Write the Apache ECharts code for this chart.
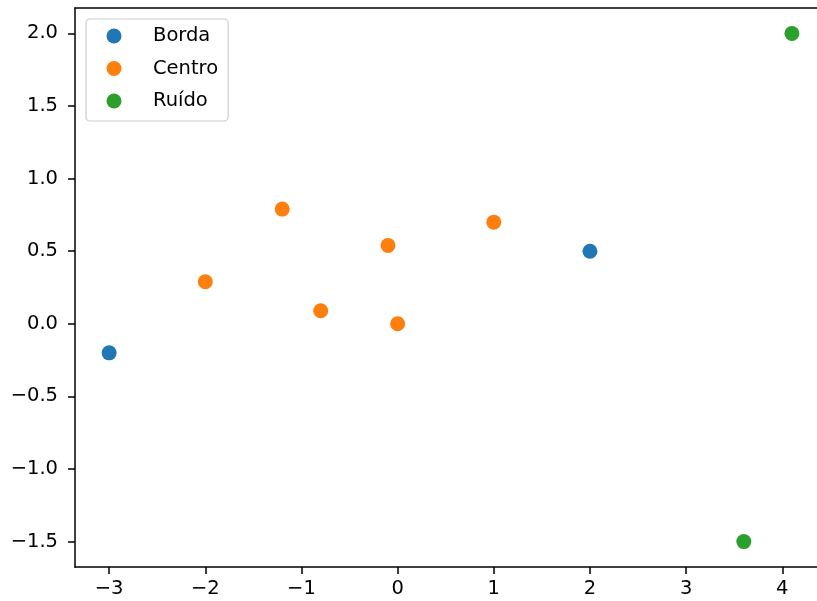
<!DOCTYPE html>
<html>
<head>
<meta charset="utf-8">
<script src="https://cdn.jsdelivr.net/npm/echarts@6/dist/echarts.min.js"></script>
<style>html,body{margin:0;padding:0;background:#fff}#c{width:817px;height:601px}</style>
</head>
<body>
<div id="c"></div>
<script>
const seriesNames = ['Borda', 'Centro', 'Ruído'];
const bordaPoints = [[-3, -0.2], [2, 0.5]];
const centroPoints = [[-2, 0.29], [-1.2, 0.79], [-0.8, 0.09], [-0.1, 0.54], [0, 0], [1, 0.7]];
const ruidoPoints = [[3.6, -1.5], [4.1, 2.0]];
const xTicks = [-3, -2, -1, 0, 1, 2, 3, 4];
const yTicks = [-1.5, -1.0, -0.5, 0.0, 0.5, 1.0, 1.5, 2.0];
const colors = ['#1f77b4', '#ff7f0e', '#2ca02c'];

const fmtMinus = v => String(v).replace('-', '\u2212');
const FONT = 'DejaVu Sans';
const FS = 19.5;

const chart = echarts.init(document.getElementById('c'), null, {renderer: 'canvas'});
chart.setOption({
  animation: false,
  backgroundColor: '#fff',
  grid: {left: 75, top: 8, right: 0, bottom: 34, show: false},
  xAxis: [{
    type: 'value', min: -3.355, max: 4.361,
    splitLine: {show: false},
    axisLine: {show: true, onZero: false, lineStyle: {color: '#000', width: 1.5}},
    axisTick: {show: true, length: 7, lineStyle: {color: '#000', width: 1.5}, customValues: xTicks},
    axisLabel: {customValues: xTicks, margin: 12, color: '#000', fontFamily: FONT, fontSize: FS,
      formatter: v => fmtMinus(v)}
  }, {
    type: 'value', position: 'top', min: -3.355, max: 4.361,
    splitLine: {show: false},
    axisLine: {show: true, onZero: false, lineStyle: {color: '#000', width: 1.5}},
    axisTick: {show: false}, axisLabel: {show: false}
  }],
  yAxis: {
    type: 'value', min: -1.675, max: 2.175,
    splitLine: {show: false},
    axisLine: {show: true, onZero: false, lineStyle: {color: '#000', width: 1.5}},
    axisTick: {show: true, length: 7, lineStyle: {color: '#000', width: 1.5}, customValues: yTicks},
    axisLabel: {customValues: yTicks, margin: 17, color: '#000', fontFamily: FONT, fontSize: FS,
      formatter: v => fmtMinus(Number(v).toFixed(1))}
  },
  legend: {
    orient: 'vertical', left: 86, top: 19,
    data: seriesNames,
    icon: 'circle', itemWidth: 15, itemHeight: 15, itemGap: 12.5,
    padding: [7, 10, 10, 20.5],
    backgroundColor: 'rgba(255,255,255,0.8)', borderColor: '#cccccc', borderWidth: 1.2, borderRadius: 4,
    textStyle: {fontFamily: FONT, fontSize: FS, color: '#000', lineHeight: 15, padding: [0, 0, 0, 26.5]}
  },
  series: [
    {name: seriesNames[0], type: 'scatter', data: bordaPoints, symbolSize: 15, itemStyle: {color: colors[0], opacity: 1}},
    {name: seriesNames[1], type: 'scatter', data: centroPoints, symbolSize: 15, itemStyle: {color: colors[1], opacity: 1}},
    {name: seriesNames[2], type: 'scatter', data: ruidoPoints, symbolSize: 15, itemStyle: {color: colors[2], opacity: 1}}
  ]
});
</script>
</body>
</html>
